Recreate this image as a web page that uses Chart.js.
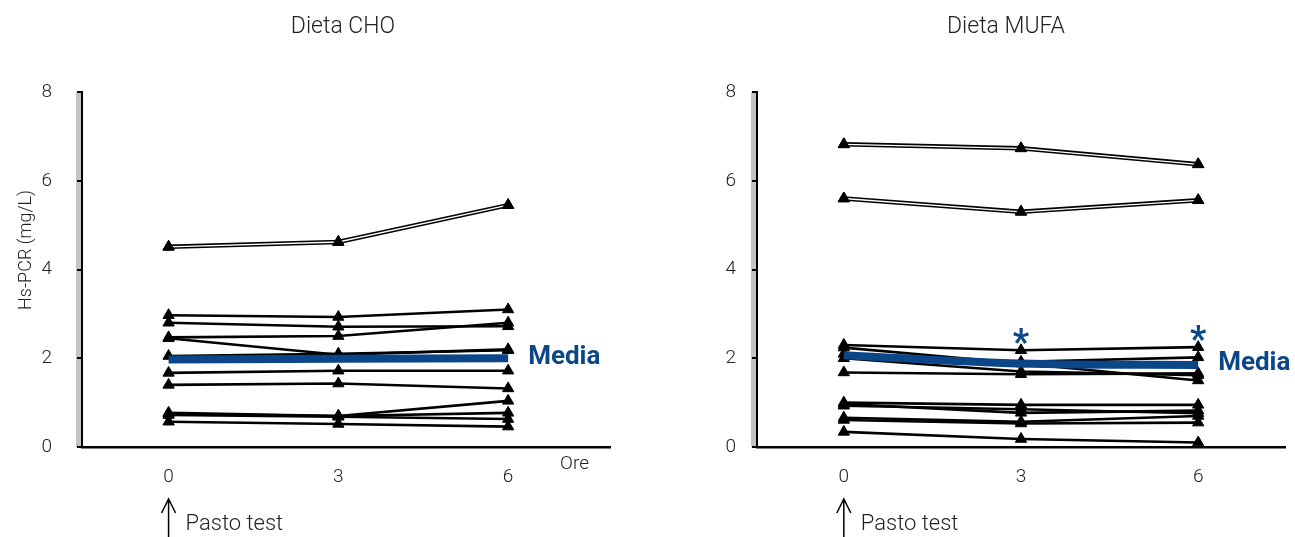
<!DOCTYPE html>
<html>
<head>
<meta charset="utf-8">
<script src="https://cdn.jsdelivr.net/npm/chart.js@4/dist/chart.umd.min.js"></script>
<style>
    html, body { margin: 0; padding: 0; background: #fff; }
    #wrap { position: relative; width: 1295px; height: 537px; }
    .box { position: absolute; top: 0; height: 537px; }
</style>
</head>
<body>
<div id="wrap">
    <div class="box" style="left:0;width:650px"><canvas id="cho" width="650" height="537"></canvas></div>
    <div class="box" style="left:650px;width:645px"><canvas id="mufa" width="645" height="537"></canvas></div>
</div>
<script>
// ore dopo il pasto test
const ore = [0, 3, 6]
const yTicks = [0, 2, 4, 6, 8]

// Dieta CHO - valori dei singoli soggetti (mg/L)
const choSoggetti = [
    [4.51, 4.62, 5.45],
    [2.97, 2.93, 3.10],
    [2.80, 2.71, 2.72],
    [2.47, 2.50, 2.80],
    [2.45, 2.08, 2.20],
    [2.05, 2.10, 2.18],
    [1.67, 1.72, 1.72],
    [1.40, 1.43, 1.32],
    [0.77, 0.70, 1.04],
    [0.75, 0.70, 0.77],
    [0.72, 0.68, 0.63],
    [0.57, 0.52, 0.46],
]
const choDoppie = [0]
const choMedia = [1.97, 1.99, 2.0]

// Dieta MUFA
const mufaSoggetti = [
    [6.82, 6.73, 6.37],
    [5.60, 5.30, 5.56],
    [2.30, 2.18, 2.25],
    [2.24, 1.88, 1.50],
    [2.10, 1.92, 2.02],
    [2.00, 1.70, 1.62],
    [1.68, 1.64, 1.66],
    [1.00, 0.95, 0.95],
    [0.97, 0.77, 0.82],
    [0.93, 0.85, 0.76],
    [0.66, 0.57, 0.70],
    [0.61, 0.53, 0.55],
    [0.34, 0.18, 0.10],
]
const mufaDoppie = [0, 1]
const mufaMedia = [2.07, 1.88, 1.85]
const mufaAsterischi = [[3, 2.5], [6, 2.58]]

const BLU = '#0b4688'
const FONT = 'Roboto, "Liberation Sans", sans-serif'

function build_datasets(soggetti, doppie, media, tension) {
    const ds = []
    soggetti.forEach((v, i) => {
        const punti = ore.map((x, j) => ({ x, y: v[j] }))
        const doppia = doppie.includes(i)
        ds.push({
            data: punti, borderColor: '#000', borderWidth: doppia ? 4.5 : 2.6,
            pointStyle: 'triangle', pointRadius: 6.5, pointBackgroundColor: '#000',
            pointBorderColor: '#000', pointBorderWidth: 1, order: 10
        })
        if (doppia) {
            ds.push({ data: punti, borderColor: '#fff', borderWidth: 1.3, pointRadius: 0, order: 9 })
            ds.push({
                data: punti, showLine: false, pointStyle: 'triangle', pointRadius: 6.5,
                pointBackgroundColor: '#000', pointBorderColor: '#000', order: 8
            })
        }
    })
    ds.push({
        data: ore.map((x, j) => ({ x, y: media[j] })), borderColor: BLU, borderWidth: 8,
        pointRadius: 0, tension, order: 1
    })
    return ds
}

function build_scales(xmin, xmax, yPad) {
    return {
        x: {
            type: 'linear', min: xmin, max: xmax,
            afterBuildTicks: s => { s.ticks = ore.map(v => ({ value: v })) },
            afterFit: s => { s.height = 90 },
            grid: { display: false, drawTicks: false },
            border: { color: '#000', width: 2.5 },
            ticks: { padding: 19, color: '#222', font: { family: FONT, size: 19, weight: 300 } }
        },
        y: {
            type: 'linear', min: 0, max: 8,
            afterBuildTicks: s => { s.ticks = yTicks.map(v => ({ value: v })) },
            afterFit: s => { s.width = 82 },
            grid: { drawOnChartArea: false, drawTicks: true, tickLength: 5, color: '#000', lineWidth: 2 },
            border: { color: '#000', width: 2 },
            ticks: { padding: yPad, color: '#222', font: { family: FONT, size: 19, weight: 300 } }
        }
    }
}

const decorazioni = {
    id: 'decorazioni',
    beforeDraw(chart) {
        const { ctx, chartArea: a } = chart
        ctx.save()
        ctx.fillStyle = '#c4c4c4'
        ctx.fillRect(a.left - 6, a.top, 5, a.bottom - a.top)
        ctx.restore()
    },
    afterDraw(chart, args, o) {
        const { ctx, chartArea: a, scales: { x, y } } = chart
        ctx.save()
        ctx.fillStyle = '#222'
        ctx.textBaseline = 'middle'
        ctx.textAlign = 'center'
        ctx.font = `300 23px ${FONT}`
        ctx.fillText(o.titolo, o.titoloX, 27)

        if (o.titoloY) {
            ctx.save()
            ctx.translate(26, 250)
            ctx.rotate(-Math.PI / 2)
            ctx.font = `300 18px ${FONT}`
            ctx.fillText(o.titoloY, 0, 0)
            ctx.restore()
        }

        // etichetta media
        ctx.fillStyle = BLU
        ctx.textAlign = 'left'
        ctx.font = `bold 26px ${FONT}`
        ctx.fillText('Media', x.getPixelForValue(6) + 20, y.getPixelForValue(o.media[2]) - 1)

        // asterischi
        ctx.font = `bold 36px ${FONT}`
        ctx.textAlign = 'center'
        o.asterischi.forEach(([vx, vy]) => {
            ctx.fillText('*', x.getPixelForValue(vx), y.getPixelForValue(vy) + 9)
        })

        if (o.ore) {
            ctx.fillStyle = '#222'
            ctx.font = `300 19px ${FONT}`
            ctx.textAlign = 'right'
            ctx.fillText('Ore', a.right - 21, a.bottom + 17)
        }

        // freccia pasto test
        const px = x.getPixelForValue(0)
        ctx.strokeStyle = '#000'
        ctx.lineWidth = 1.5
        ctx.beginPath()
        ctx.moveTo(px, 537)
        ctx.lineTo(px, 499)
        ctx.moveTo(px - 7, 513)
        ctx.lineTo(px, 499)
        ctx.lineTo(px + 7, 513)
        ctx.stroke()
        ctx.fillStyle = '#222'
        ctx.textAlign = 'left'
        ctx.font = `300 22px ${FONT}`
        ctx.fillText('Pasto test', px + 17, 524)
        ctx.restore()
    }
}

function crea_grafico(id, cfg) {
    return new Chart(document.getElementById(id), {
        type: 'line',
        data: { datasets: build_datasets(cfg.soggetti, cfg.doppie, cfg.media, cfg.tension) },
        options: {
            responsive: false,
            animation: false,
            layout: { padding: cfg.padding },
            scales: build_scales(cfg.xmin, cfg.xmax, cfg.yPad),
            plugins: {
                legend: { display: false },
                tooltip: { enabled: false },
                decorazioni: {
                    titolo: cfg.titolo, titoloX: cfg.titoloX, titoloY: cfg.titoloY, media: cfg.media,
                    asterischi: cfg.asterischi, ore: cfg.ore
                }
            }
        },
        plugins: [decorazioni]
    })
}

crea_grafico('cho', {
    soggetti: choSoggetti, doppie: choDoppie, media: choMedia, tension: 0,
    xmin: -1.53, xmax: 7.8, yPad: 25, titoloY: 'Hs-PCR (mg/L)',
    padding: { left: 0, right: 40, top: 92, bottom: 0 },
    titolo: 'Dieta CHO', titoloX: 343, asterischi: [], ore: true
})

crea_grafico('mufa', {
    soggetti: mufaSoggetti, doppie: mufaDoppie, media: mufaMedia, tension: 0.4,
    xmin: -1.47, xmax: 7.47, yPad: 16, titoloY: '',
    padding: { left: 25, right: 10, top: 92, bottom: 0 },
    titolo: 'Dieta MUFA', titoloX: 356, asterischi: mufaAsterischi, ore: false
})
</script>
</body>
</html>
